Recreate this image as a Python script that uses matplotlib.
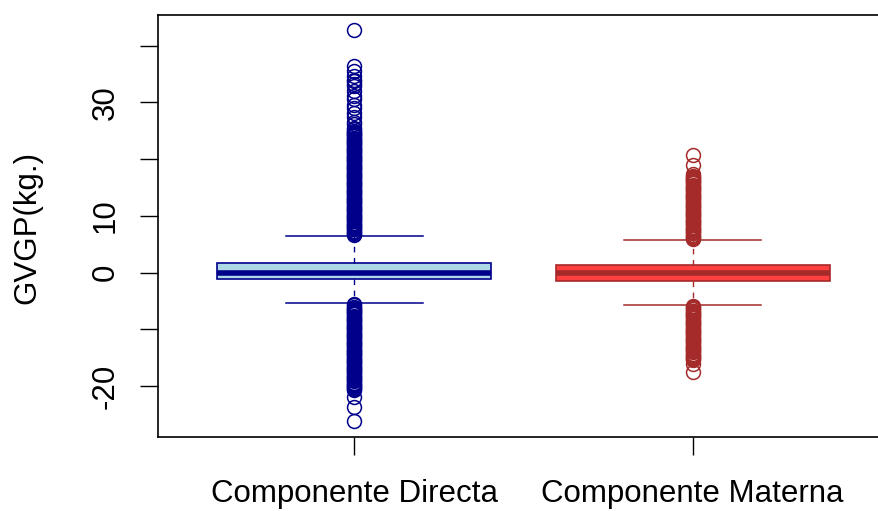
import matplotlib
matplotlib.use("Agg")
import matplotlib.pyplot as plt

plt.rcParams['font.family'] = ['Liberation Sans', 'DejaVu Sans']

# Box statistics
groups = ["Componente Directa", "Componente Materna"]
medians = [0.0, 0.0]
q1s = [-1.1, -1.45]
q3s = [1.6, 1.4]
whis_lo = [-5.45, -5.75]
whis_hi = [6.45, 5.75]

# outliers (dense parts of the columns read as closely spaced points)
directa_out = [
    6.6, 6.8, 7.0, 7.2, 7.4, 7.6, 7.8, 8.0, 8.2, 8.4, 8.6, 8.8, 9.0, 9.2, 9.4, 9.6, 9.8,
    10.0, 10.2, 10.4, 10.6, 10.8, 11.0, 11.2, 11.4, 11.6, 11.8, 12.0, 12.2, 12.4, 12.6, 12.8,
    13.0, 13.2, 13.4, 13.6, 13.8, 14.0, 14.2, 14.4, 14.6, 14.8, 15.0, 15.2, 15.4, 15.6, 15.8,
    16.0, 16.2, 16.4, 16.6, 16.8, 17.0, 17.2, 17.4, 17.6, 17.8, 18.0, 18.2, 18.4, 18.6, 18.8,
    19.0, 19.2, 19.4, 19.6, 19.8, 20.0, 20.2, 20.4, 20.6, 20.8, 21.0, 21.2, 21.4, 21.6, 21.8,
    22.0, 22.2, 22.4, 22.6, 22.8, 23.0, 23.2, 23.4, 23.6, 23.8, 24.0, 24.2, 24.4, 24.6, 24.8,
    25.0, 25.3, 25.5, 26.1, 26.6, 27.5, 28.2, 29.0, 29.6, 30.6, 31.1, 32.0, 32.8, 33.2, 33.7,
    34.0, 34.6, 35.6, 36.4, 42.7,
    -5.6, -5.8, -6.0, -6.2, -6.4, -6.6, -6.8, -7.0, -7.2, -7.4, -7.6, -7.8, -8.0, -8.2,
    -8.4, -8.6, -8.8, -9.0, -9.2, -9.4, -9.6, -9.8, -10.0, -10.2, -10.4, -10.6, -10.8,
    -11.0, -11.2, -11.4, -11.6, -11.8, -12.0, -12.2, -12.4, -12.6, -12.8, -13.0, -13.2,
    -13.4, -13.6, -13.8, -14.0, -14.2, -14.4, -14.6, -14.8, -15.0, -15.2, -15.4, -15.6,
    -15.8, -16.0, -16.2, -16.4, -16.6, -16.8, -17.0, -17.2, -17.4, -17.6, -17.8, -18.0,
    -18.2, -18.4, -18.6, -18.8, -19.0, -19.2, -19.4, -19.6, -19.8, -20.0, -20.2, -20.4,
    -20.6, -20.8, -21.9, -23.7, -26.1,
]
materna_out = [
    5.9, 6.1, 6.3, 6.5, 6.7, 6.9, 7.1, 7.3, 7.5, 7.7, 7.9, 8.1, 8.3, 8.5, 8.7, 8.9,
    9.1, 9.3, 9.5, 9.7, 9.9, 10.1, 10.3, 10.5, 10.7, 10.9, 11.1, 11.3, 11.5, 11.7, 11.9,
    12.1, 12.3, 12.5, 12.7, 12.9, 13.1, 13.3, 13.5, 13.7, 13.9, 14.1, 14.3, 14.5, 14.7,
    14.9, 15.1, 15.3, 15.5, 15.7, 15.9, 16.1, 16.3, 16.5, 16.7, 16.9, 17.1, 17.3,
    19.0, 20.8,
    -5.9, -6.1, -6.3, -6.5, -6.7, -6.9, -7.1, -7.3, -7.5, -7.7, -7.9, -8.1, -8.3, -8.5,
    -8.7, -8.9, -9.1, -9.3, -9.5, -9.7, -9.9, -10.1, -10.3, -10.5, -10.7, -10.9, -11.1,
    -11.3, -11.5, -11.7, -11.9, -12.1, -12.3, -12.5, -12.7, -12.9, -13.1, -13.3, -13.5,
    -13.7, -13.9, -14.1, -14.3, -14.5, -14.7, -14.9, -15.1, -15.3, -15.5,
    -16.1, -17.5,
]
fliers = [directa_out, materna_out]

fill_cols = ["#ADD8E6", "#FF4040"]
edge_cols = ["#00008B", "#A52A2A"]

yticks = [-20, -10, 0, 10, 20, 30, 40]
ytick_labels = ["-20", "", "0", "10", "", "30", ""]

fig = plt.figure(figsize=(8.79, 5.11), dpi=100)
ax = fig.add_axes([158/879, 74/511, 731/879, 422/511])

for i in range(2):
    st = dict(med=medians[i], q1=q1s[i], q3=q3s[i],
              whislo=whis_lo[i], whishi=whis_hi[i], fliers=fliers[i])
    c = edge_cols[i]
    ax.bxp([st], positions=[i + 1], widths=0.81, capwidths=0.405,
           patch_artist=True, manage_ticks=False,
           boxprops=dict(facecolor=fill_cols[i], edgecolor=c, linewidth=1.2),
           whiskerprops=dict(color=c, linestyle=(0, (4, 4)), linewidth=1.0),
           capprops=dict(color=c, linewidth=1.1),
           medianprops=dict(color=c, linewidth=4, solid_capstyle='butt'),
           flierprops=dict(marker='o', markerfacecolor='none', markeredgecolor=c,
                           markersize=10, markeredgewidth=1.1))

ax.set_xlim(0.42, 2.58)
ax.set_ylim(-29.0, 45.4)
ax.set_xticks([1, 2])
ax.set_xticklabels(groups)
ax.set_yticks(yticks)
ax.set_yticklabels(ytick_labels)
for lab in ax.get_yticklabels():
    lab.set_rotation(90)
    lab.set_va('center')

ax.tick_params(axis='both', length=13, width=1, labelsize=22.5, colors='black')
ax.tick_params(axis='x', pad=17.5)
ax.tick_params(axis='y', pad=14)
for sp in ax.spines.values():
    sp.set_linewidth(1.2)

fig.text(27/879, 1 - 227/511, "GVGP(kg.)", rotation=90, ha='center', va='center', fontsize=22.5)

fig.savefig("out.png", dpi=100)
